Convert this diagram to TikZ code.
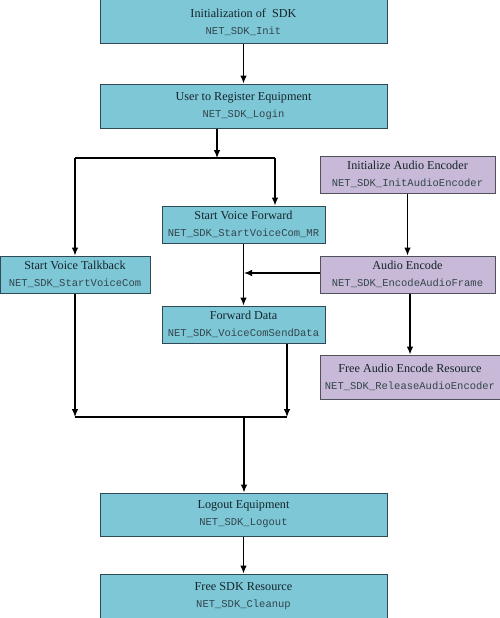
\documentclass[tikz,border=0pt]{standalone}
\usepackage{fontspec}
\setmainfont{Liberation Serif}
\setmonofont{Liberation Mono}
\usetikzlibrary{arrows.meta}
\definecolor{sdkblue}{HTML}{7DC7D7}
\definecolor{sdkedge}{HTML}{2F4A55}
\definecolor{audiopurple}{HTML}{C7B9D7}
\definecolor{audioedge}{HTML}{505058}
\definecolor{boxtext}{HTML}{16252A}
\definecolor{fntext}{HTML}{34464C}

\tikzset{
  sdkbox/.style={draw=sdkedge, fill=sdkblue, line width=1pt, rectangle, align=center, inner sep=0pt, text=boxtext, font=\fontsize{12.2}{16}\selectfont},
  audiobox/.style={sdkbox, draw=audioedge, fill=audiopurple},
  flow/.style={line width=1.1pt, -{Latex[length=8pt,width=6.5pt]}},
  joint/.style={line width=1.1pt}
}
\newcommand{\fn}[1]{\\[1pt]{\ttfamily\fontsize{10.5}{12}\selectfont\color{fntext}#1}}

\begin{document}
\begin{tikzpicture}[x=1pt, y=-1pt]
	\useasboundingbox (0,0) rectangle (500,618);
	% main column
	\node[sdkbox, minimum width=287pt, minimum height=44pt] (init) at (243.5,22) {Initialization of~~SDK\fn{NET\_SDK\_Init}};
	\node[sdkbox, minimum width=287pt, minimum height=44pt] (login) at (243.5,106) {User to Register Equipment\fn{NET\_SDK\_Login}};
	\node[sdkbox, minimum width=150pt, minimum height=37pt] (talk) at (75,274.5) {Start Voice Talkback\fn{NET\_SDK\_StartVoiceCom}};
	\node[sdkbox, minimum width=163pt, minimum height=37pt] (fwd) at (243.5,224.5) {Start Voice Forward\fn{NET\_SDK\_StartVoiceCom\_MR}};
	\node[sdkbox, minimum width=163pt, minimum height=37pt] (data) at (243.5,324.5) {Forward Data\fn{NET\_SDK\_VoiceComSendData}};
	\node[sdkbox, minimum width=287pt, minimum height=43pt] (logout) at (243.5,514.5) {Logout Equipment\fn{NET\_SDK\_Logout}};
	\node[sdkbox, minimum width=287pt, minimum height=44pt] (clean) at (243.5,596) {Free SDK Resource\fn{NET\_SDK\_Cleanup}};
	% audio encoder column
	\node[audiobox, minimum width=175pt, minimum height=37pt] (encinit) at (407.5,174.5) {Initialize Audio Encoder\fn{NET\_SDK\_InitAudioEncoder}};
	\node[audiobox, minimum width=175pt, minimum height=37pt] (enc) at (407.5,274.5) {Audio Encode\fn{NET\_SDK\_EncodeAudioFrame}};
	\node[audiobox, minimum width=180pt, minimum height=44pt] (encfree) at (410,377) {Free Audio Encode Resource\fn{NET\_SDK\_ReleaseAudioEncoder}};
	% junctions
	\coordinate (split) at (217,158);
	\coordinate (splitl) at (75,158);
	\coordinate (splitr) at (275,158);
	\coordinate (feed) at (244,273);
	\coordinate (mergel) at (75,417);
	\coordinate (merger) at (287,417);
	\coordinate (merge) at (244,417);
	% connectors
	\draw[flow] (init) -- (login);
	\draw[flow] (login.south -| split) -- (split);
	\draw[joint] (splitl) -- (splitr);
	\draw[flow] (splitl) -- (talk.north);
	\draw[flow] (splitr) -- (fwd.north -| splitr);
	\draw[flow] (fwd) -- (data);
	\draw[flow] (encinit) -- (enc);
	\draw[flow] (enc.west |- feed) -- (feed);
	\draw[flow] (enc.south -| encfree) -- (encfree);
	\draw[flow] (talk) -- (mergel);
	\draw[flow] (data.south -| merger) -- (merger);
	\draw[joint] (mergel) -- (merger);
	\draw[flow] (merge) -- (logout.north -| merge);
	\draw[flow] (logout) -- (clean);
\end{tikzpicture}
\end{document}
